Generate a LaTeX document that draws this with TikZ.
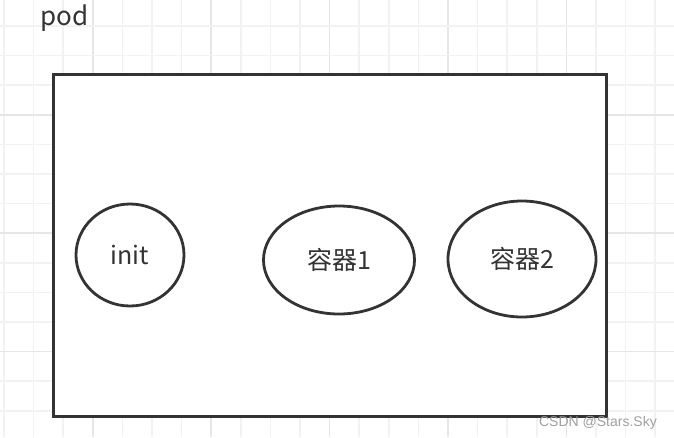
\documentclass[tikz,border=0pt]{standalone}
\usepackage{fontspec}
\setmainfont{Noto Sans CJK SC}
\newfontfamily\wmfont{Liberation Sans}
\usetikzlibrary{shapes.geometric}
\definecolor{gridminor}{HTML}{F2F2F2}
\definecolor{gridmajor}{HTML}{E6E6E6}
\definecolor{ink}{HTML}{333333}
\tikzset{
  minorline/.style={draw=gridminor, line width=1.6pt},
  majorline/.style={draw=gridmajor, line width=1.6pt},
  podbox/.style={draw=ink, fill=white, line width=3pt},
  ctr/.style={ellipse, draw=ink, fill=white, line width=2.8pt, inner sep=0pt,
    text=ink, font=\fontsize{25}{29}\selectfont},
  lbl/.style={text=ink, font=\fontsize{26}{30}\selectfont, inner sep=0pt}
}
\begin{document}
\begin{tikzpicture}[x=1pt,y=-1pt]
\useasboundingbox (0,0) rectangle (674,437);
\fill[white] (0,0) rectangle (674,437);
% grid
\foreach \k in {0,...,22} {
  \pgfmathsetmacro{\xx}{4+29.6*\k}
  \pgfmathtruncatemacro{\m}{mod(\k,4)}
  \ifnum\m=3 \draw[majorline] (\xx,0) -- (\xx,437); \else \draw[minorline] (\xx,0) -- (\xx,437); \fi
}
\foreach \k in {1,...,15} {
  \pgfmathsetmacro{\yy}{-3.6+29.6*\k}
  \pgfmathtruncatemacro{\m}{mod(\k,4)}
  \ifnum\m=0 \draw[majorline] (0,\yy) -- (674,\yy); \else \draw[minorline] (0,\yy) -- (674,\yy); \fi
}
% pod box
\draw[podbox] (53,74.5) rectangle (606,416);
\node[lbl, anchor=base west] (pod) at (40,25) {pod};
\node[ctr, minimum width=108pt, minimum height=102pt] (init) at (130,255) {init};
\node[ctr, minimum width=151pt, minimum height=108pt] (c1) at (339,260) {容器1};
\node[ctr, minimum width=148pt, minimum height=116pt] (c2) at (522,259) {容器2};
\node[anchor=base east, text=gray!75, font=\wmfont\fontsize{14}{16}\selectfont, inner sep=0pt] (wm) at (657,426) {CSDN @Stars.Sky};
\end{tikzpicture}
\end{document}
